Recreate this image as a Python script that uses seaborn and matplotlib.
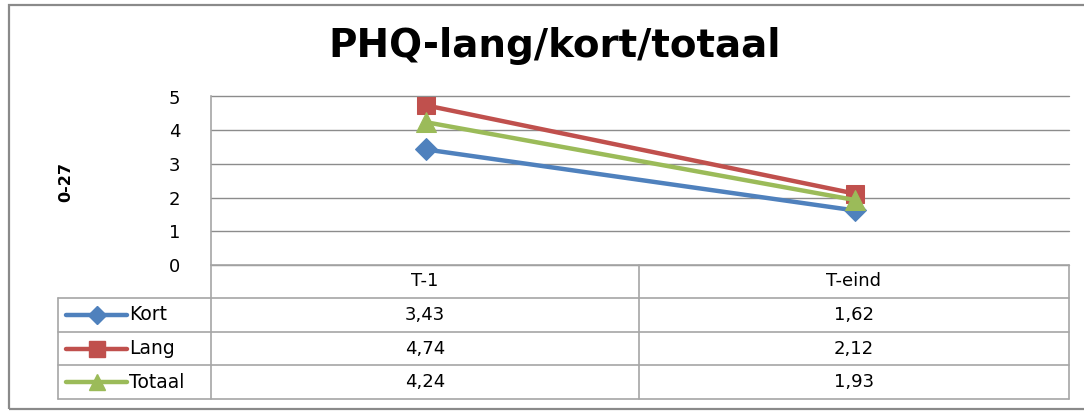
import pandas as pd
import seaborn as sns
import matplotlib.pyplot as plt
from matplotlib.patches import Rectangle
from matplotlib.lines import Line2D

# chart data
tijdstippen = ["T-1", "T-eind"]
groepen = ["Kort", "Lang", "Totaal"]
kort = [3.43, 1.62]
lang = [4.74, 2.12]
totaal = [4.24, 1.93]
y_ticks = [0, 1, 2, 3, 4, 5]

kleuren = {"Kort": "#4F81BD", "Lang": "#C0504D", "Totaal": "#9BBB59"}
markers = {"Kort": "D", "Lang": "s", "Totaal": "^"}
marker_sizes = {"Kort": 11, "Lang": 13, "Totaal": 14}
grid_col = "#8C8C8C"
table_col = "#A6A6A6"

W, H = 1084, 412


def fx(px):
    return px / W


def fy(py):
    return 1 - py / H


def run_chart():
    rows = []
    for naam, waarden in zip(groepen, [kort, lang, totaal]):
        for t, v in zip(tijdstippen, waarden):
            rows.append({"tijd": t, "groep": naam, "score": v})
    df = pd.DataFrame(rows)

    sns.set_style("white")
    plt.rcParams["font.family"] = ["DejaVu Sans"]
    plt.rcParams["text.color"] = "black"
    plt.rcParams["ytick.color"] = "black"

    fig = plt.figure(figsize=(W / 100, H / 100), dpi=100)
    fig.patches.append(Rectangle((fx(9), fy(409)), fx(1100) - fx(9), fy(5) - fy(409),
                                 transform=fig.transFigure, fill=False,
                                 edgecolor="#8A8A8A", lw=1.6))

    # plot area
    ax = fig.add_axes([fx(211), fy(265), fx(1069) - fx(211), fy(96.5) - fy(265)])
    for naam in groepen:
        sub = df[df["groep"] == naam]
        sns.lineplot(data=sub, x="tijd", y="score", ax=ax, color=kleuren[naam],
                     marker=markers[naam], markersize=marker_sizes[naam],
                     markeredgecolor=kleuren[naam], lw=3.2, sort=False,
                     legend=False, zorder=3)
    ax.set_xlim(-0.5, len(tijdstippen) - 0.5)
    ax.set_ylim(0, 5)
    ax.set_yticks(y_ticks)
    ax.set_yticklabels([str(t) for t in y_ticks], fontsize=13)
    ax.tick_params(axis="y", length=0, pad=22, labelcolor="black")
    ax.set_xticks([])
    ax.set_xlabel("")
    ax.set_ylabel("")
    for t in y_ticks:
        ax.axhline(t, color=grid_col, lw=1.0, zorder=0, clip_on=False)
    for s in ["top", "right", "bottom"]:
        ax.spines[s].set_visible(False)
    ax.spines["left"].set_color(table_col)
    ax.spines["left"].set_linewidth(1.2)

    fig.text(fx(66), fy(182), "0-27", rotation=90, ha="center", va="center",
             fontsize=11.5, fontweight="bold")
    fig.text(fx(555), fy(46), "PHQ-lang/kort/totaal", ha="center", va="center",
             fontsize=28, fontweight="bold")

    # data table under the plot
    col_edges = [58, 211, 639, 1069]
    row_edges = [265, 298, 332, 365, 399]
    lw_t = 1.2
    tf = fig.transFigure
    fig.add_artist(Line2D([fx(211), fx(1069)], [fy(265), fy(265)], color=table_col, lw=lw_t, transform=tf))
    for r in row_edges[1:]:
        fig.add_artist(Line2D([fx(58), fx(1069)], [fy(r), fy(r)], color=table_col, lw=lw_t, transform=tf))
    fig.add_artist(Line2D([fx(58), fx(58)], [fy(298), fy(399)], color=table_col, lw=lw_t, transform=tf))
    for c in col_edges[1:]:
        fig.add_artist(Line2D([fx(c), fx(c)], [fy(265), fy(399)], color=table_col, lw=lw_t, transform=tf))

    for i, t in enumerate(tijdstippen):
        cx = (col_edges[i + 1] + col_edges[i + 2]) / 2
        fig.text(fx(cx), fy((row_edges[0] + row_edges[1]) / 2), t, ha="center", va="center", fontsize=13)

    for j, (naam, waarden) in enumerate(zip(groepen, [kort, lang, totaal])):
        cy = (row_edges[j + 1] + row_edges[j + 2]) / 2
        fig.add_artist(Line2D([fx(66), fx(127)], [fy(cy), fy(cy)], color=kleuren[naam], lw=3.2,
                              transform=tf))
        fig.add_artist(Line2D([fx(96.5)], [fy(cy)], color=kleuren[naam], marker=markers[naam],
                              markersize=marker_sizes[naam] * 0.85, markeredgecolor=kleuren[naam],
                              transform=tf))
        fig.text(fx(129), fy(cy), naam, ha="left", va="center", fontsize=13.5)
        for i, v in enumerate(waarden):
            cx = (col_edges[i + 1] + col_edges[i + 2]) / 2
            fig.text(fx(cx), fy(cy), "{:.2f}".format(v).replace(".", ","), ha="center", va="center",
                     fontsize=13)

    fig.savefig("out.png", dpi=100)


run_chart()
